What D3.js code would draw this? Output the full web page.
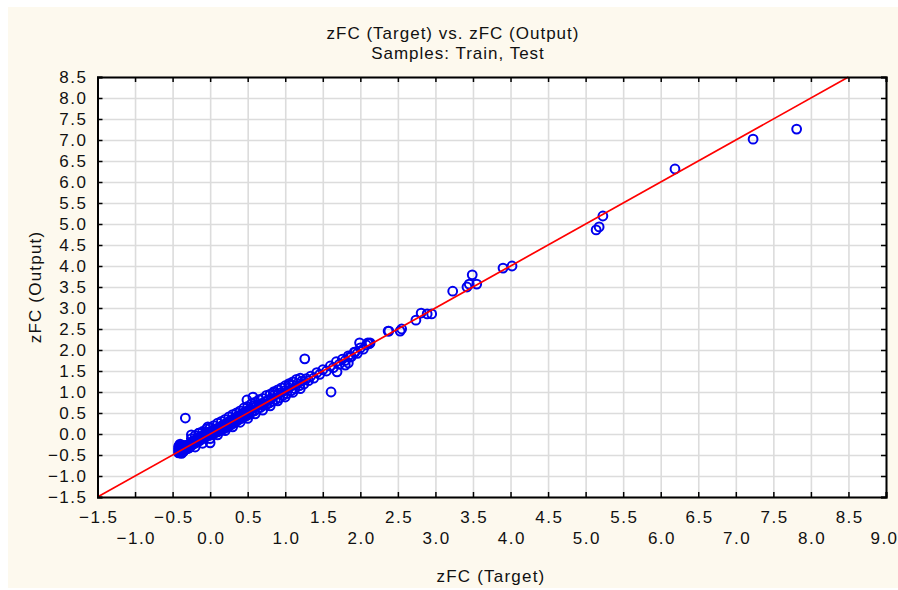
<!DOCTYPE html>
<html>
<head>
<meta charset="utf-8">
<script src="https://cdn.jsdelivr.net/npm/d3@7"></script>
<style>
  html, body { margin: 0; padding: 0; background: #ffffff; }
  svg { display: block; }
  .tick text { font-family: "Liberation Sans", Arial, sans-serif; font-size: 17px; letter-spacing: 1.5px; fill: #111; }
</style>
</head>
<body>
<svg id="chart" width="898" height="590"></svg>
<script>
// Chart text.
const titleLines = ["zFC (Target) vs. zFC (Output)", "Samples: Train, Test"];
const xTitle = "zFC (Target)";
const yTitle = "zFC (Output)";

// Tick values for both axes.
const xTicks = [-1.5, -1.0, -0.5, 0.0, 0.5, 1.0, 1.5, 2.0, 2.5, 3.0, 3.5, 4.0, 4.5, 5.0, 5.5, 6.0, 6.5, 7.0, 7.5, 8.0, 8.5, 9.0];
const yTicks = [-1.5, -1.0, -0.5, 0.0, 0.5, 1.0, 1.5, 2.0, 2.5, 3.0, 3.5, 4.0, 4.5, 5.0, 5.5, 6.0, 6.5, 7.0, 7.5, 8.0, 8.5];

// Reference line (target == output), endpoints.
const fitLine = [[-1.5, -1.5], [8.5, 8.5]];

// Samples: target values (x) and network output (y).
const target = [
  -0.42, -0.42, -0.42, -0.42, -0.41, -0.41, -0.41, -0.41, -0.40, -0.40, -0.40, -0.40, -0.40,
  -0.39, -0.39, -0.39, -0.38, -0.38, -0.38, -0.38, -0.37, -0.37, -0.37, -0.36, -0.36, -0.36,
  -0.35, -0.35, -0.35, -0.34, -0.34, -0.33, -0.33, -0.32, -0.32, -0.31, -0.30, -0.30, -0.29,
  -0.28, -0.28,
  -0.27, -0.26, -0.25, -0.24, -0.23, -0.22, -0.21, -0.20, -0.19, -0.18, -0.17, -0.16, -0.15,
  -0.14, -0.13, -0.12, -0.11, -0.10, -0.09, -0.08, -0.07, -0.06, -0.05, -0.04, -0.03, -0.02,
  -0.01, 0.00, 0.01, 0.02, 0.03, 0.04, 0.05, 0.06, 0.07, 0.08, 0.09, 0.10, 0.11, 0.12, 0.13,
  0.14, 0.15, 0.16, 0.17, 0.18, 0.19, 0.20, 0.21, 0.22, 0.23, 0.24, 0.25, 0.26, 0.27, 0.28,
  0.29, 0.30, 0.31, 0.32, 0.33, 0.34, 0.35, 0.36, 0.37, 0.38, 0.39, 0.40, 0.41, 0.42, 0.43,
  0.44, 0.45, 0.46, 0.47, 0.48, 0.49, 0.50, 0.51, 0.52,
  0.53, 0.55, 0.57, 0.59, 0.61, 0.63, 0.65, 0.67, 0.69, 0.71, 0.73, 0.75, 0.77, 0.79, 0.81,
  0.83, 0.85, 0.87, 0.90, 0.92, 0.95, 0.97, 1.00, 1.02, 1.05, 1.08, 1.10, 1.13, 1.16, 1.19,
  1.22, 1.25, 1.28, 1.31, 1.34, 1.38, 1.42, 1.46, 1.50, 1.55, 1.60, 1.64, 1.68, 1.72, 1.76,
  1.80, 1.84, 1.88, 1.92, 1.96, 2.00, 2.04, 2.08, 2.12,
  -0.25, -0.20, -0.15, -0.10, -0.05, 0.00, 0.05, 0.10, 0.15, 0.20, 0.25, 0.30, 0.35, 0.40,
  0.45, 0.50, 0.55, 0.60, 0.65, 0.70, 0.75, 0.80, 0.85, 0.90, 0.95, 1.00, 1.05, 1.10, 1.15, 1.20,
  -0.20, -0.10, 0.00, 0.10, 0.20, 0.30, 0.40, 0.50, 0.60, 0.70, 0.80, 0.90, 1.00, 1.10, 1.20,
  -0.33, -0.25, -0.15, -0.03, 0.00, 0.49, 0.57, 0.84, 1.06, 1.26, 1.61, 1.69, 1.80, 1.84,
  1.86, 1.93, 1.99, 2.10, 2.13,
  2.37, 2.38, 2.53, 2.55, 2.74, 2.81, 2.89, 2.95, 3.23, 3.42, 3.45, 3.49, 3.55, 3.90, 4.02,
  5.14, 5.18, 5.23, 6.19, 7.23, 7.81
];
const output = [
  -0.45, -0.40, -0.35, -0.30, -0.42, -0.37, -0.32, -0.27, -0.45, -0.40, -0.34, -0.29, -0.24,
  -0.43, -0.38, -0.31, -0.46, -0.41, -0.36, -0.28, -0.44, -0.39, -0.33, -0.42, -0.36, -0.30,
  -0.40, -0.34, -0.27, -0.38, -0.31, -0.36, -0.29, -0.34, -0.27, -0.32, -0.35, -0.28, -0.30,
  -0.25, -0.33,
  -0.30, -0.22, -0.27, -0.18, -0.25, -0.20, -0.15, -0.22, -0.16, -0.12, -0.19, -0.13, -0.08,
  -0.16, -0.10, -0.05, -0.12, -0.07, -0.02, -0.10, -0.04, 0.01, -0.06, -0.01, 0.04, -0.04,
  0.02, 0.06, -0.02, 0.04, 0.08, 0.01, 0.06, 0.11, 0.03, 0.09, 0.13, 0.05, 0.11, 0.16, 0.08,
  0.14, 0.19, 0.11, 0.17, 0.22, 0.13, 0.20, 0.25, 0.16, 0.23, 0.28, 0.19, 0.26, 0.32, 0.22,
  0.29, 0.35, 0.26, 0.33, 0.38, 0.29, 0.36, 0.42, 0.33, 0.39, 0.44, 0.36, 0.42, 0.47, 0.39,
  0.45, 0.51, 0.41, 0.48, 0.54, 0.44, 0.50, 0.57, 0.47,
  0.58, 0.52, 0.62, 0.55, 0.66, 0.60, 0.70, 0.63, 0.73, 0.68, 0.77, 0.70, 0.80, 0.74, 0.85,
  0.78, 0.92, 0.82, 0.95, 0.86, 0.99, 0.92, 1.04, 0.96, 1.10, 1.03, 1.16, 1.08, 1.20, 1.15,
  1.26, 1.19, 1.32, 1.27, 1.38, 1.33, 1.46, 1.42, 1.53, 1.50, 1.62, 1.58, 1.72, 1.66, 1.78,
  1.75, 1.86, 1.84, 1.95, 1.92, 2.05, 2.02, 2.12, 2.15,
  -0.11, -0.04, 0.02, 0.06, 0.12, 0.15, 0.20, 0.26, 0.30, 0.35, 0.41, 0.46, 0.50, 0.55,
  0.62, 0.66, 0.72, 0.76, 0.82, 0.85, 0.92, 0.95, 1.01, 1.05, 1.10, 1.15, 1.20, 1.24, 1.30, 1.33,
  -0.31, -0.22, -0.11, -0.02, 0.08, 0.17, 0.28, 0.37, 0.48, 0.57, 0.67, 0.79, 0.88, 0.99, 1.08,
  0.38, -0.02, 0.02, 0.17, -0.21, 0.81, 0.88, 0.98, 1.17, 1.79, 1.00, 1.48, 1.64, 1.69,
  1.83, 1.95, 2.17, 2.17, 2.17,
  2.45, 2.45, 2.45, 2.50, 2.71, 2.88, 2.86, 2.86, 3.40, 3.50, 3.57, 3.79, 3.57, 3.95, 4.00,
  4.86, 4.93, 5.19, 6.31, 7.02, 7.26
];

// Plot frame in pixels.
const plot = { left: 97.5, right: 886, top: 77, bottom: 497 };
const labelFont = '"Liberation Sans", Arial, sans-serif';

const svg = d3.select("#chart");

// Cream page background.
svg.append("rect")
  .attr("x", 8).attr("y", 7)
  .attr("width", 890).attr("height", 581)
  .attr("fill", "#fdf9ee");

const x = d3.scaleLinear().domain([-1.5, 9.0]).range([plot.left, plot.right]);
const y = d3.scaleLinear().domain([-1.5, 8.5]).range([plot.bottom, plot.top]);

// Plot area.
svg.append("rect")
  .attr("x", plot.left).attr("y", plot.top)
  .attr("width", plot.right - plot.left).attr("height", plot.bottom - plot.top)
  .attr("fill", "#ffffff");

// Grid lines.
const gridX = svg.append("g")
  .attr("transform", `translate(0,${plot.bottom})`)
  .call(d3.axisBottom(x).tickValues(xTicks).tickSize(-(plot.bottom - plot.top)).tickFormat(""));
const gridY = svg.append("g")
  .attr("transform", `translate(${plot.left},0)`)
  .call(d3.axisLeft(y).tickValues(yTicks).tickSize(-(plot.right - plot.left)).tickFormat(""));
[gridX, gridY].forEach(g => {
  g.select(".domain").remove();
  g.selectAll(".tick line").attr("stroke", "#dcdcdc").attr("stroke-width", 1.6);
});

// Sample points.
const pts = target.map((t, i) => [t, output[i]]);
svg.append("g")
  .selectAll("circle")
  .data(pts)
  .join("circle")
  .attr("cx", d => x(d[0]))
  .attr("cy", d => y(d[1]))
  .attr("r", 4.4)
  .attr("fill", "none")
  .attr("stroke", "#0000ee")
  .attr("stroke-width", 2);

// Red reference line, drawn over the points.
svg.append("path")
  .datum(fitLine)
  .attr("d", d3.line().x(d => x(d[0])).y(d => y(d[1])))
  .attr("stroke", "#ff0000")
  .attr("stroke-width", 1.7)
  .attr("fill", "none");

// Axes with inward ticks on all four sides.
const fmt = d3.format(".1f");
const axB = svg.append("g")
  .attr("transform", `translate(0,${plot.bottom})`)
  .call(d3.axisBottom(x).tickValues(xTicks).tickSize(-5).tickFormat(fmt));
axB.selectAll(".tick text")
  .attr("dy", null)
  .attr("dx", (d, i) => i === xTicks.length - 1 ? "-2px" : "0.75px")
  .attr("y", (d, i) => i % 2 === 0 ? 26 : 47);

const axL = svg.append("g")
  .attr("transform", `translate(${plot.left},0)`)
  .call(d3.axisLeft(y).tickValues(yTicks).tickSize(-5).tickPadding(10).tickFormat(fmt));

const axT = svg.append("g")
  .attr("transform", `translate(0,${plot.top})`)
  .call(d3.axisTop(x).tickValues(xTicks).tickSize(-5).tickFormat(""));
const axR = svg.append("g")
  .attr("transform", `translate(${plot.right},0)`)
  .call(d3.axisRight(y).tickValues(yTicks).tickSize(-5).tickFormat(""));

[axB, axL, axT, axR].forEach(g => {
  g.select(".domain").attr("stroke", "#000").attr("stroke-width", 2);
  g.selectAll(".tick line").attr("stroke", "#000").attr("stroke-width", 1.5);
});

// Titles.
svg.append("g").selectAll("text")
  .data(titleLines)
  .join("text")
  .attr("x", (d, i) => i === 0 ? 453 : 458)
  .attr("y", (d, i) => 39 + i * 20)
  .attr("text-anchor", "middle")
  .attr("font-family", labelFont)
  .attr("font-size", 17)
  .attr("letter-spacing", 1)
  .attr("fill", "#111")
  .text(d => d);

svg.append("text")
  .attr("x", 491).attr("y", 582)
  .attr("text-anchor", "middle")
  .attr("font-family", labelFont)
  .attr("font-size", 17)
  .attr("letter-spacing", 1.2)
  .attr("fill", "#111")
  .text(xTitle);

svg.append("text")
  .attr("transform", "translate(41,287) rotate(-90)")
  .attr("text-anchor", "middle")
  .attr("font-family", labelFont)
  .attr("font-size", 17)
  .attr("letter-spacing", 1.2)
  .attr("fill", "#111")
  .text(yTitle);
</script>
</body>
</html>
